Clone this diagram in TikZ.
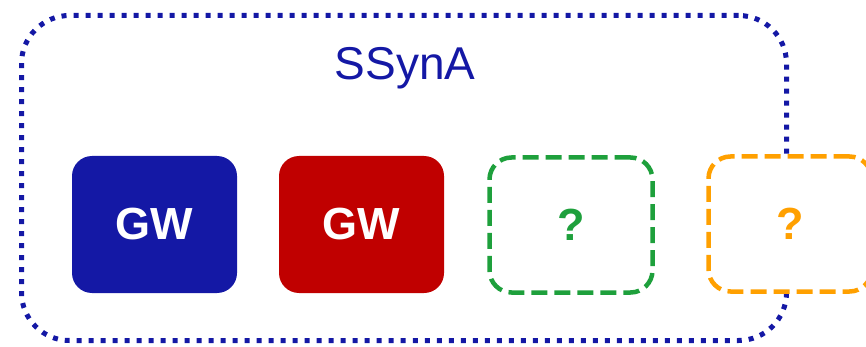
\documentclass[tikz,border=0pt]{standalone}
\usepackage{fontspec}
\setmainfont{Liberation Sans}
\definecolor{sblue}{RGB}{20,24,165}
\definecolor{sred}{RGB}{192,0,0}
\definecolor{sgreen}{RGB}{30,160,60}
\definecolor{sorange}{RGB}{255,160,0}

\begin{document}
\begin{tikzpicture}[x=1pt,y=-1pt,
    frame/.style={draw=sblue, line width=5pt, dash pattern=on 5pt off 7pt, rounded corners=48pt,
      minimum width=765pt, minimum height=325pt, inner sep=0pt},
    gw/.style={rounded corners=20pt, minimum width=165pt, minimum height=137pt, inner sep=0pt,
      text=white, font=\fontsize{45}{50}\selectfont\bfseries},
    unknown/.style={line width=4.5pt, dash pattern=on 16pt off 7pt, rounded corners=22pt,
      minimum width=163pt, minimum height=135pt, inner sep=0pt,
      font=\fontsize{45}{50}\selectfont\bfseries}]
    \useasboundingbox[clip] (0,0) rectangle (866,347);
    \node[frame] (frame) at (404,178) {};
    \node[text=sblue, anchor=base, font=\fontsize{46}{50}\selectfont] (title) at (405,80) {SSynA};
    \node[gw, fill=sblue] (gwblue) at (154.5,224.5) {GW};
    \node[gw, fill=sred] (gwred) at (361.5,224.5) {GW};
    \node[unknown, draw=sgreen, text=sgreen] (qgreen) at (571,225) {?};
    \node[unknown, draw=sorange, text=sorange, fill=white] (qorange) at (790,224) {?};
  \end{tikzpicture}
\end{document}
